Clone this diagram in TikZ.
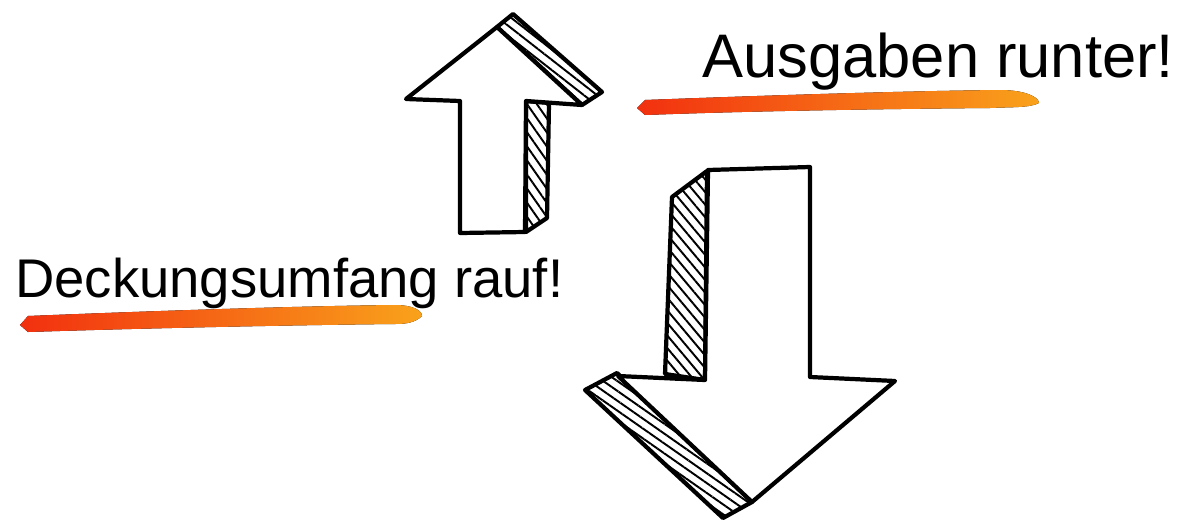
\documentclass[tikz,border=0pt]{standalone}
\usepackage{fontspec}
\setmainfont{Liberation Sans}
\usepackage{tikz}
\usetikzlibrary{patterns.meta}
\definecolor{brushred}{HTML}{F2300F}
\definecolor{brushmid}{HTML}{F47A14}
\definecolor{brushorange}{HTML}{F9A21B}
\begin{document}
\begin{tikzpicture}[
      x=0.02cm,y=-0.02cm,
      outline/.style={draw,line width=2.4pt,line join=round},
      front/.style={outline,fill=white},
      hatchface/.style={outline,pattern={Lines[angle=#1,distance=4.6pt,line width=1.1pt]}},
      brush/.style={left color=brushred,middle color=brushmid,right color=brushorange,draw=none},
      slogan/.style={anchor=base west,inner sep=0pt}
    ]
    \useasboundingbox (0,0) rectangle (1185,521);
    % underline strokes
    \fill[brush] (637,108) -- (645,100) .. controls (750,96) and (900,91) .. (1000,90)
      .. controls (1025,90) and (1039,97) .. (1039,103) .. controls (1030,108) and (1010,107) .. (990,108)
      .. controls (880,109) and (750,111) .. (645,115) -- cycle;
    \fill[brush] (20,325) -- (28,316) .. controls (150,311) and (300,306) .. (395,305)
      .. controls (412,305) and (422,310) .. (422,316) .. controls (415,323) and (405,324) .. (395,324)
      .. controls (300,325) and (150,328) .. (28,332) -- cycle;
    \node[slogan,font=\fontsize{35}{40}\selectfont] (ausgaben) at (702,77) {Ausgaben runter!};
    \node[slogan,font=\fontsize{31}{36}\selectfont] (deckung) at (15,297) {Deckungsumfang rauf!};
    % up arrow
    \draw[hatchface=-38] (497,27) -- (513,14) -- (602,92) -- (582,105) -- cycle;
    \draw[hatchface=-55] (526,101) -- (549,103) -- (547,218) -- (526,232) -- cycle;
    \draw[front] (460,233) -- (460,101) -- (406,99) -- (497,27) -- (582,105) -- (526,101) -- (525,232) -- cycle;
    % down arrow
    \draw[hatchface=-50] (672,197) -- (707,171) -- (705,380) -- (665,374) -- cycle;
    \draw[hatchface=-35] (585,390) -- (617,373) -- (752,502) -- (723,518) -- cycle;
    \draw[front] (708,170) -- (810,167) -- (810,377) -- (895,381) -- (752,502) -- (618,376) -- (705,380) -- cycle;
\end{tikzpicture}
\end{document}
